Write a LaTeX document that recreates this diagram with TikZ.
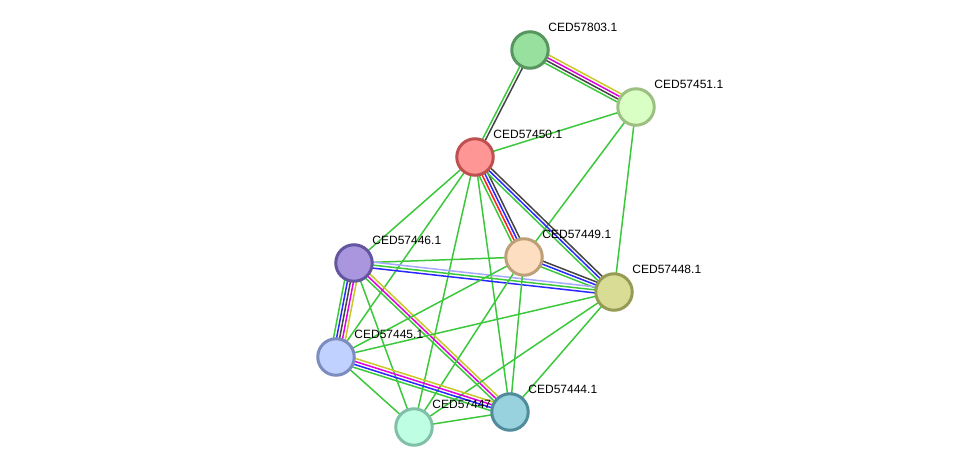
\documentclass[tikz,border=0pt]{standalone}
\usepackage{fontspec}
\setmainfont{Liberation Sans}
\usetikzlibrary{positioning, calc, backgrounds}

\definecolor{eGreen}{HTML}{3CC83C}
\definecolor{eDark}{HTML}{444444}
\definecolor{eMagenta}{HTML}{E000E0}
\definecolor{eYellow}{HTML}{C8C828}
\definecolor{eBlue}{HTML}{2828FF}
\definecolor{eRed}{HTML}{FF2020}
\definecolor{eLav}{HTML}{A8A8FF}

\tikzset{
	prot/.style={circle, minimum size=36.5pt, inner sep=0pt, line width=3pt},
	lbl/.style={font=\fontsize{12}{14}\selectfont, inner sep=0pt, above right=4.3pt and 4.3pt of #1},
	edge/.style={line width=1.5pt}
}
% one coloured line per evidence channel, 3pt apart
\newcommand{\link}[3]{%
  \foreach \ecol [count=\k] in {#3} {\xdef\nlines{\k}}%
  \foreach \ecol [count=\k] in {#3} {%
    \pgfmathsetmacro\off{(\k-(\nlines+1)/2)*3}%
    \draw[edge, \ecol] ($(#1)!\off pt!90:(#2)$) -- ($(#2)!\off pt!-90:(#1)$);
  }}

\begin{document}
\begin{tikzpicture}[x=1pt, y=1pt]
  \useasboundingbox (0,0) rectangle (976,472);

  \node[prot, draw={rgb,255:red,88;green,150;blue,95}, fill={rgb,255:red,152;green,224;blue,158}] (n803) at (530,422) {};
  \node[lbl=n803] (l803) {CED57803.1};
  \node[prot, draw={rgb,255:red,156;green,192;blue,130}, fill={rgb,255:red,218;green,255;blue,196}] (n451) at (636,365) {};
  \node[lbl=n451] (l451) {CED57451.1};
  \node[prot, draw={rgb,255:red,190;green,80;blue,80}, fill={rgb,255:red,255;green,150;blue,150}] (n450) at (475,315) {};
  \node[lbl=n450] (l450) {CED57450.1};
  \node[prot, draw={rgb,255:red,190;green,160;blue,120}, fill={rgb,255:red,253;green,222;blue,192}] (n449) at (524,215) {};
  \node[lbl=n449] (l449) {CED57449.1};
  \node[prot, draw={rgb,255:red,100;green,85;blue,160}, fill={rgb,255:red,170;green,150;blue,222}] (n446) at (354,209) {};
  \node[lbl=n446] (l446) {CED57446.1};
  \node[prot, draw={rgb,255:red,150;green,155;blue,85}, fill={rgb,255:red,216;green,220;blue,148}] (n448) at (614,180) {};
  \node[lbl=n448] (l448) {CED57448.1};
  \node[prot, draw={rgb,255:red,125;green,140;blue,190}, fill={rgb,255:red,192;green,208;blue,255}] (n445) at (336,115) {};
  \node[lbl=n445] (l445) {CED57445.1};
  \node[prot, draw={rgb,255:red,128;green,192;blue,168}, fill={rgb,255:red,190;green,255;blue,228}] (n447) at (414,45) {};
  \node[lbl=n447] (l447) {CED57447.1};
  \node[prot, draw={rgb,255:red,80;green,140;blue,155}, fill={rgb,255:red,152;green,210;blue,222}] (n444) at (510,60) {};
  \node[lbl=n444] (l444) {CED57444.1};

  \begin{scope}[on background layer]
    \link{n803}{n451}{eGreen,eDark,eMagenta,eYellow}
    \link{n803}{n450}{eGreen,eDark}
    \link{n450}{n451}{eGreen}
    \link{n451}{n449}{eGreen}
    \link{n451}{n448}{eGreen}
    \link{n450}{n446}{eGreen}
    \link{n450}{n445}{eGreen}
    \link{n450}{n447}{eGreen}
    \link{n450}{n444}{eGreen}
    \link{n450}{n449}{eGreen,eRed,eBlue,eDark}
    \link{n450}{n448}{eGreen,eBlue,eDark}
    \link{n449}{n448}{eGreen,eBlue,eDark}
    \link{n446}{n449}{eGreen}
    \link{n446}{n448}{eBlue,eGreen,eLav}
    \link{n446}{n445}{eGreen,eBlue,eDark,eMagenta,eYellow}
    \link{n446}{n444}{eGreen,eMagenta,eYellow}
    \link{n446}{n447}{eGreen}
    \link{n449}{n445}{eGreen}
    \link{n449}{n447}{eGreen}
    \link{n449}{n444}{eGreen}
    \link{n448}{n445}{eGreen}
    \link{n448}{n447}{eGreen}
    \link{n448}{n444}{eGreen}
    \link{n445}{n444}{eGreen,eBlue,eMagenta,eYellow}
    \link{n445}{n447}{eGreen}
    \link{n447}{n444}{eGreen}
  \end{scope}
\end{tikzpicture}
\end{document}
